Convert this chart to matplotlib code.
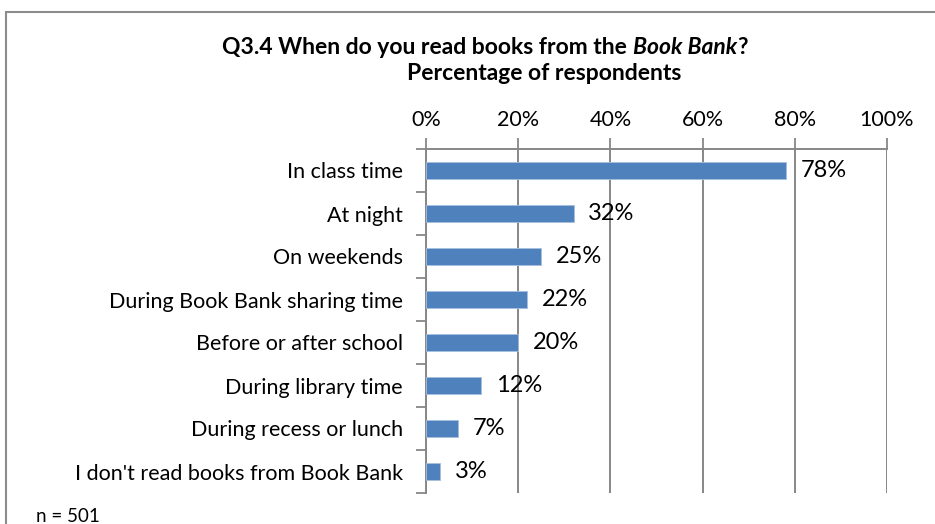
import matplotlib
matplotlib.use("Agg")
import matplotlib.pyplot as plt
from matplotlib.patches import Rectangle

plt.rcParams["font.family"] = ["Lato", "DejaVu Sans"]

categories = [
    "In class time",
    "At night",
    "On weekends",
    "During Book Bank sharing time",
    "Before or after school",
    "During library time",
    "During recess or lunch",
    "I don't read books from Book Bank",
]
values = [78, 32, 25, 22, 20, 12, 7, 3]
x_ticks = [0, 20, 40, 60, 80, 100]
x_tick_labels = ["0%", "20%", "40%", "60%", "80%", "100%"]

BAR = "#4F81BD"
GRID = "#878787"

W, H = 935, 524
fig = plt.figure(figsize=(W / 100, H / 100), dpi=100)
ax = fig.add_axes([426 / W, 1 - 493 / H, (887 - 426) / W, (493 - 149) / H])

ypos = list(range(len(categories)))
ax.barh(ypos, values, height=0.4, color=BAR, edgecolor="#A7C0DE", lw=0.6, zorder=3)
for y, v in zip(ypos, values):
    ax.text(v + 3.2, y, f"{v}%", ha="left", va="center", fontsize=17, color="black", zorder=4)

ax.set_xlim(0, 100)
ax.set_ylim(len(categories) - 0.5, -0.5)
ax.xaxis.tick_top()
ax.set_xticks(x_ticks)
ax.set_xticklabels(x_tick_labels, fontsize=15.5)
ax.tick_params(axis="x", direction="out", length=8, width=1.3, color=GRID, pad=6)
ax.grid(axis="x", color=GRID, lw=1.4, zorder=1)

# category tick marks sit on the boundaries between bars
ax.set_yticks([y + 0.5 for y in ypos[:-1]] + [-0.5, len(categories) - 0.5], minor=True)
ax.set_yticks(ypos)
ax.set_yticklabels(categories, fontsize=15.5)
ax.tick_params(axis="y", which="major", length=0, pad=16.5)
ax.tick_params(axis="y", which="minor", direction="out", length=7, width=1.3, color=GRID)

for s in ("right", "bottom"):
    ax.spines[s].set_visible(False)
for s in ("top", "left"):
    ax.spines[s].set_color(GRID)
    ax.spines[s].set_linewidth(1.4)

# chart border
fig.patches.append(Rectangle((5.5 / W, -0.2), 1.2, 1.2 - 12 / H, transform=fig.transFigure,
                             fill=False, edgecolor="#8C8C8C", lw=1.5, clip_on=False))

# title line 1 with italic "Book Bank", centred as a whole
r = fig.canvas.get_renderer()
ty = 1 - 47 / H
pieces = [("Q3.4 When do you read books from the ", "normal"),
          ("Book Bank", "italic"),
          ("?", "normal")]
texts = [fig.text(0, ty, s, ha="left", va="center", fontsize=16.5, fontweight="bold", style=st)
         for s, st in pieces]
widths = [t.get_window_extent(r).width for t in texts]
x = 485 - sum(widths) / 2
for t, w in zip(texts, widths):
    t.set_x(x / W)
    x += w
fig.text(544 / W, 1 - 73 / H, "Percentage of respondents", ha="center", va="center",
         fontsize=16.5, fontweight="bold")

fig.text(36 / W, 1 - 517 / H, "n = 501", ha="left", va="center", fontsize=13.5)

fig.savefig("out.png", dpi=100)
